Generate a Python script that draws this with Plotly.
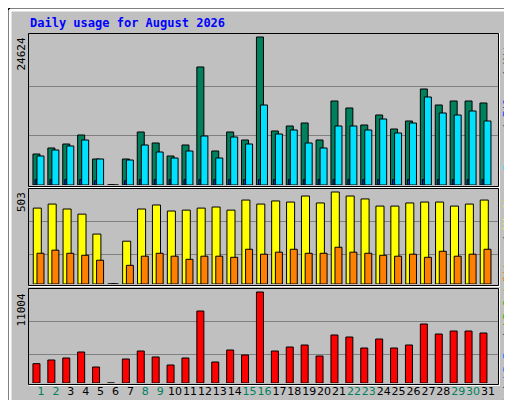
import plotly.graph_objects as go

days = list(range(1, 32))
day_labels = [str(d) for d in days]
weekend_days = [1, 2, 8, 9, 15, 16, 22, 23, 29, 30]
hits = [5158, 6157, 6822, 8320, 4326, 0, 4326, 8819, 6989, 4826, 6656, 19635, 5658, 8819, 7488, 24624,
        8986, 9818, 10317, 7488, 13978, 12813, 9984, 11648, 9318, 10650, 15974, 13312, 13978, 13978, 13645]
files = [900, 900, 900, 900, 700, 0, 700, 900, 900, 900, 900, 900, 900, 900, 900, 900,
         900, 900, 900, 900, 900, 900, 900, 900, 900, 900, 900, 900, 900, 900, 900]
pages = [4826, 5824, 6490, 7488, 4326, 0, 4160, 6656, 5491, 4493, 5658, 8154, 4493, 7987, 6822, 13312,
         8486, 9152, 6989, 6157, 9818, 9818, 9152, 10982, 8653, 10317, 14643, 11981, 11648, 12314, 10650]
visits = [415, 437, 410, 382, 273, 0, 234, 410, 432, 399, 404, 415, 421, 404, 459, 437,
          454, 448, 481, 443, 503, 481, 465, 426, 426, 443, 448, 448, 426, 437, 459]
sites = [168, 185, 168, 157, 130, 0, 102, 152, 168, 152, 135, 152, 152, 146, 190, 163,
         174, 190, 168, 168, 201, 174, 168, 157, 152, 163, 146, 179, 152, 163, 190]
kbf = [2338, 2781, 3023, 3748, 1934, 0, 2902, 3869, 3143, 2176, 3023, 8705, 2539, 3990, 3385, 11004,
       3869, 4352, 4594, 3264, 5803, 5561, 4231, 5320, 4231, 4594, 7133, 5924, 6287, 6287, 6045]
max_labels = ["24624", "503", "11004"]

W, H = 512, 400
L, R, T, B = 20, 490, 25, 377
def px(x): return (x - L) / (R - L)
def py(y): return (B - y) / (B - T)

fig = go.Figure()
line = dict(color="black", width=1)
def bar(y, color, off, w, xa, ya):
    fig.add_trace(go.Bar(x=days, y=y, offset=off, width=w, marker=dict(color=color, line=line),
                         xaxis=xa, yaxis=ya, showlegend=False, hoverinfo="skip"))

bar(hits, "#00805c", -0.54, 0.47, "x", "y")
bar(files, "#0040ff", -0.40, 0.13, "x", "y")
bar(pages, "#00e0ff", -0.27, 0.47, "x", "y")
bar(visits, "#ffff00", -0.52, 0.54, "x2", "y2")
bar(sites, "#ff8000", -0.27, 0.47, "x2", "y2")
bar(kbf, "#ff0000", -0.54, 0.47, "x3", "y3")

xr = [1 - 13/14.9, 1 + 457/14.9]
ax = dict(range=xr, showgrid=False, zeroline=False, showticklabels=False, ticks="",
          fixedrange=True, automargin=False)
ticktext = [f'<span style="color:#00805c">{d}</span>' if d in weekend_days else d_l
            for d, d_l in zip(days, day_labels)]
ya = dict(showticklabels=False, gridcolor="#808080", zeroline=False, automargin=False, fixedrange=True)
fig.update_layout(
    width=W, height=H, margin=dict(l=L, r=W - R, t=T, b=H - B, autoexpand=False),
    paper_bgcolor="#c0c0c0", plot_bgcolor="#c0c0c0", barmode="overlay",
    xaxis=dict(ax, anchor="y"), xaxis2=dict(ax, anchor="y2"),
    xaxis3=dict(ax, anchor="y3", showticklabels=True, tickvals=days, ticktext=ticktext, tickangle=0,
                tickfont=dict(family="DejaVu Sans", size=11, color="black"), ticklen=0),
    yaxis=dict(ya, domain=[py(177), 1], range=[0, 152/148*24624], tickvals=[8208, 16416]),
    yaxis2=dict(ya, domain=[py(276), py(180)], range=[0, 96/92*503], tickvals=[164, 344]),
    yaxis3=dict(ya, domain=[py(375), py(280)], range=[0, 95/91*11004], tickvals=[3507, 7497]),
    font=dict(family="DejaVu Sans Mono"),
)

shapes = []
def rect(x0, y0, x1, y1, color, w=1):
    shapes.append(dict(type="rect", xref="paper", yref="paper", x0=px(x0), x1=px(x1),
                       y0=py(y1), y1=py(y0), line=dict(color=color, width=w), layer="above"))
def seg(x0, y0, x1, y1, color, w):
    shapes.append(dict(type="line", xref="paper", yref="paper", x0=px(x0), x1=px(x1),
                       y0=py(y0), y1=py(y1), line=dict(color=color, width=w), layer="above"))
seg(0.5, 0.5, 511.5, 0.5, "black", 1)
seg(0.5, 0.5, 0.5, 399.5, "black", 1)
seg(2, 2, 508, 2, "white", 3)
seg(2, 2, 2, 396, "white", 3)
seg(507, 3, 507, 397, "#808080", 3)
seg(3, 397, 507, 397, "#808080", 3)
seg(511.5, 0, 511.5, 400, "black", 1)
seg(0, 399.5, 512, 399.5, "black", 1)
for (y0, y1) in [(25, 179), (180, 278), (280, 377)]:
    rect(20.5, y0 + 0.5, 490.5, y1 - 0.5, "black", 1)
    seg(21, y1 + 0.5, 491, y1 + 0.5, "white", 1)
    seg(491.5, y0, 491.5, y1 + 1, "white", 1)
fig.update_layout(shapes=shapes)

ann = []
ann.append(dict(x=px(20), y=py(15), xref="paper", yref="paper", xanchor="left", yanchor="middle",
                text="<b>Daily usage for August 2026</b>", showarrow=False,
                font=dict(family="DejaVu Sans Mono", size=12, color="#0000ff")))
for lab, ytop in zip(max_labels, [28, 182, 284]):
    ann.append(dict(x=px(13), y=py(ytop), xref="paper", yref="paper", xanchor="center", yanchor="top",
                    text=lab, textangle=-90, showarrow=False,
                    font=dict(family="DejaVu Sans Mono", size=11, color="black")))
sl = '<span style="color:#404040"> / </span>'
def c(t, col): return f'<span style="color:{col}">{t}</span>'
right = [
    (c("Pages", "#00e0ff") + sl + c("Files", "#0040ff") + sl + c("Hits", "#00805c"), 28),
    (c("Sites", "#ff8000") + sl + c("Visits", "#ffff00"), 180),
    (c("kB F", "#ff0000") + sl + c("kB In", "#0080ff") + sl + c("kB Out", "#00c000"), 277),
]
for txt, ytop in right:
    ann.append(dict(x=px(499), y=py(ytop), xref="paper", yref="paper", xanchor="center", yanchor="top",
                    text=txt, textangle=-90, showarrow=False,
                    font=dict(family="DejaVu Sans Mono", size=11)))
fig.update_layout(annotations=ann)

fig.write_html("out.html", config={"displayModeBar": False})
